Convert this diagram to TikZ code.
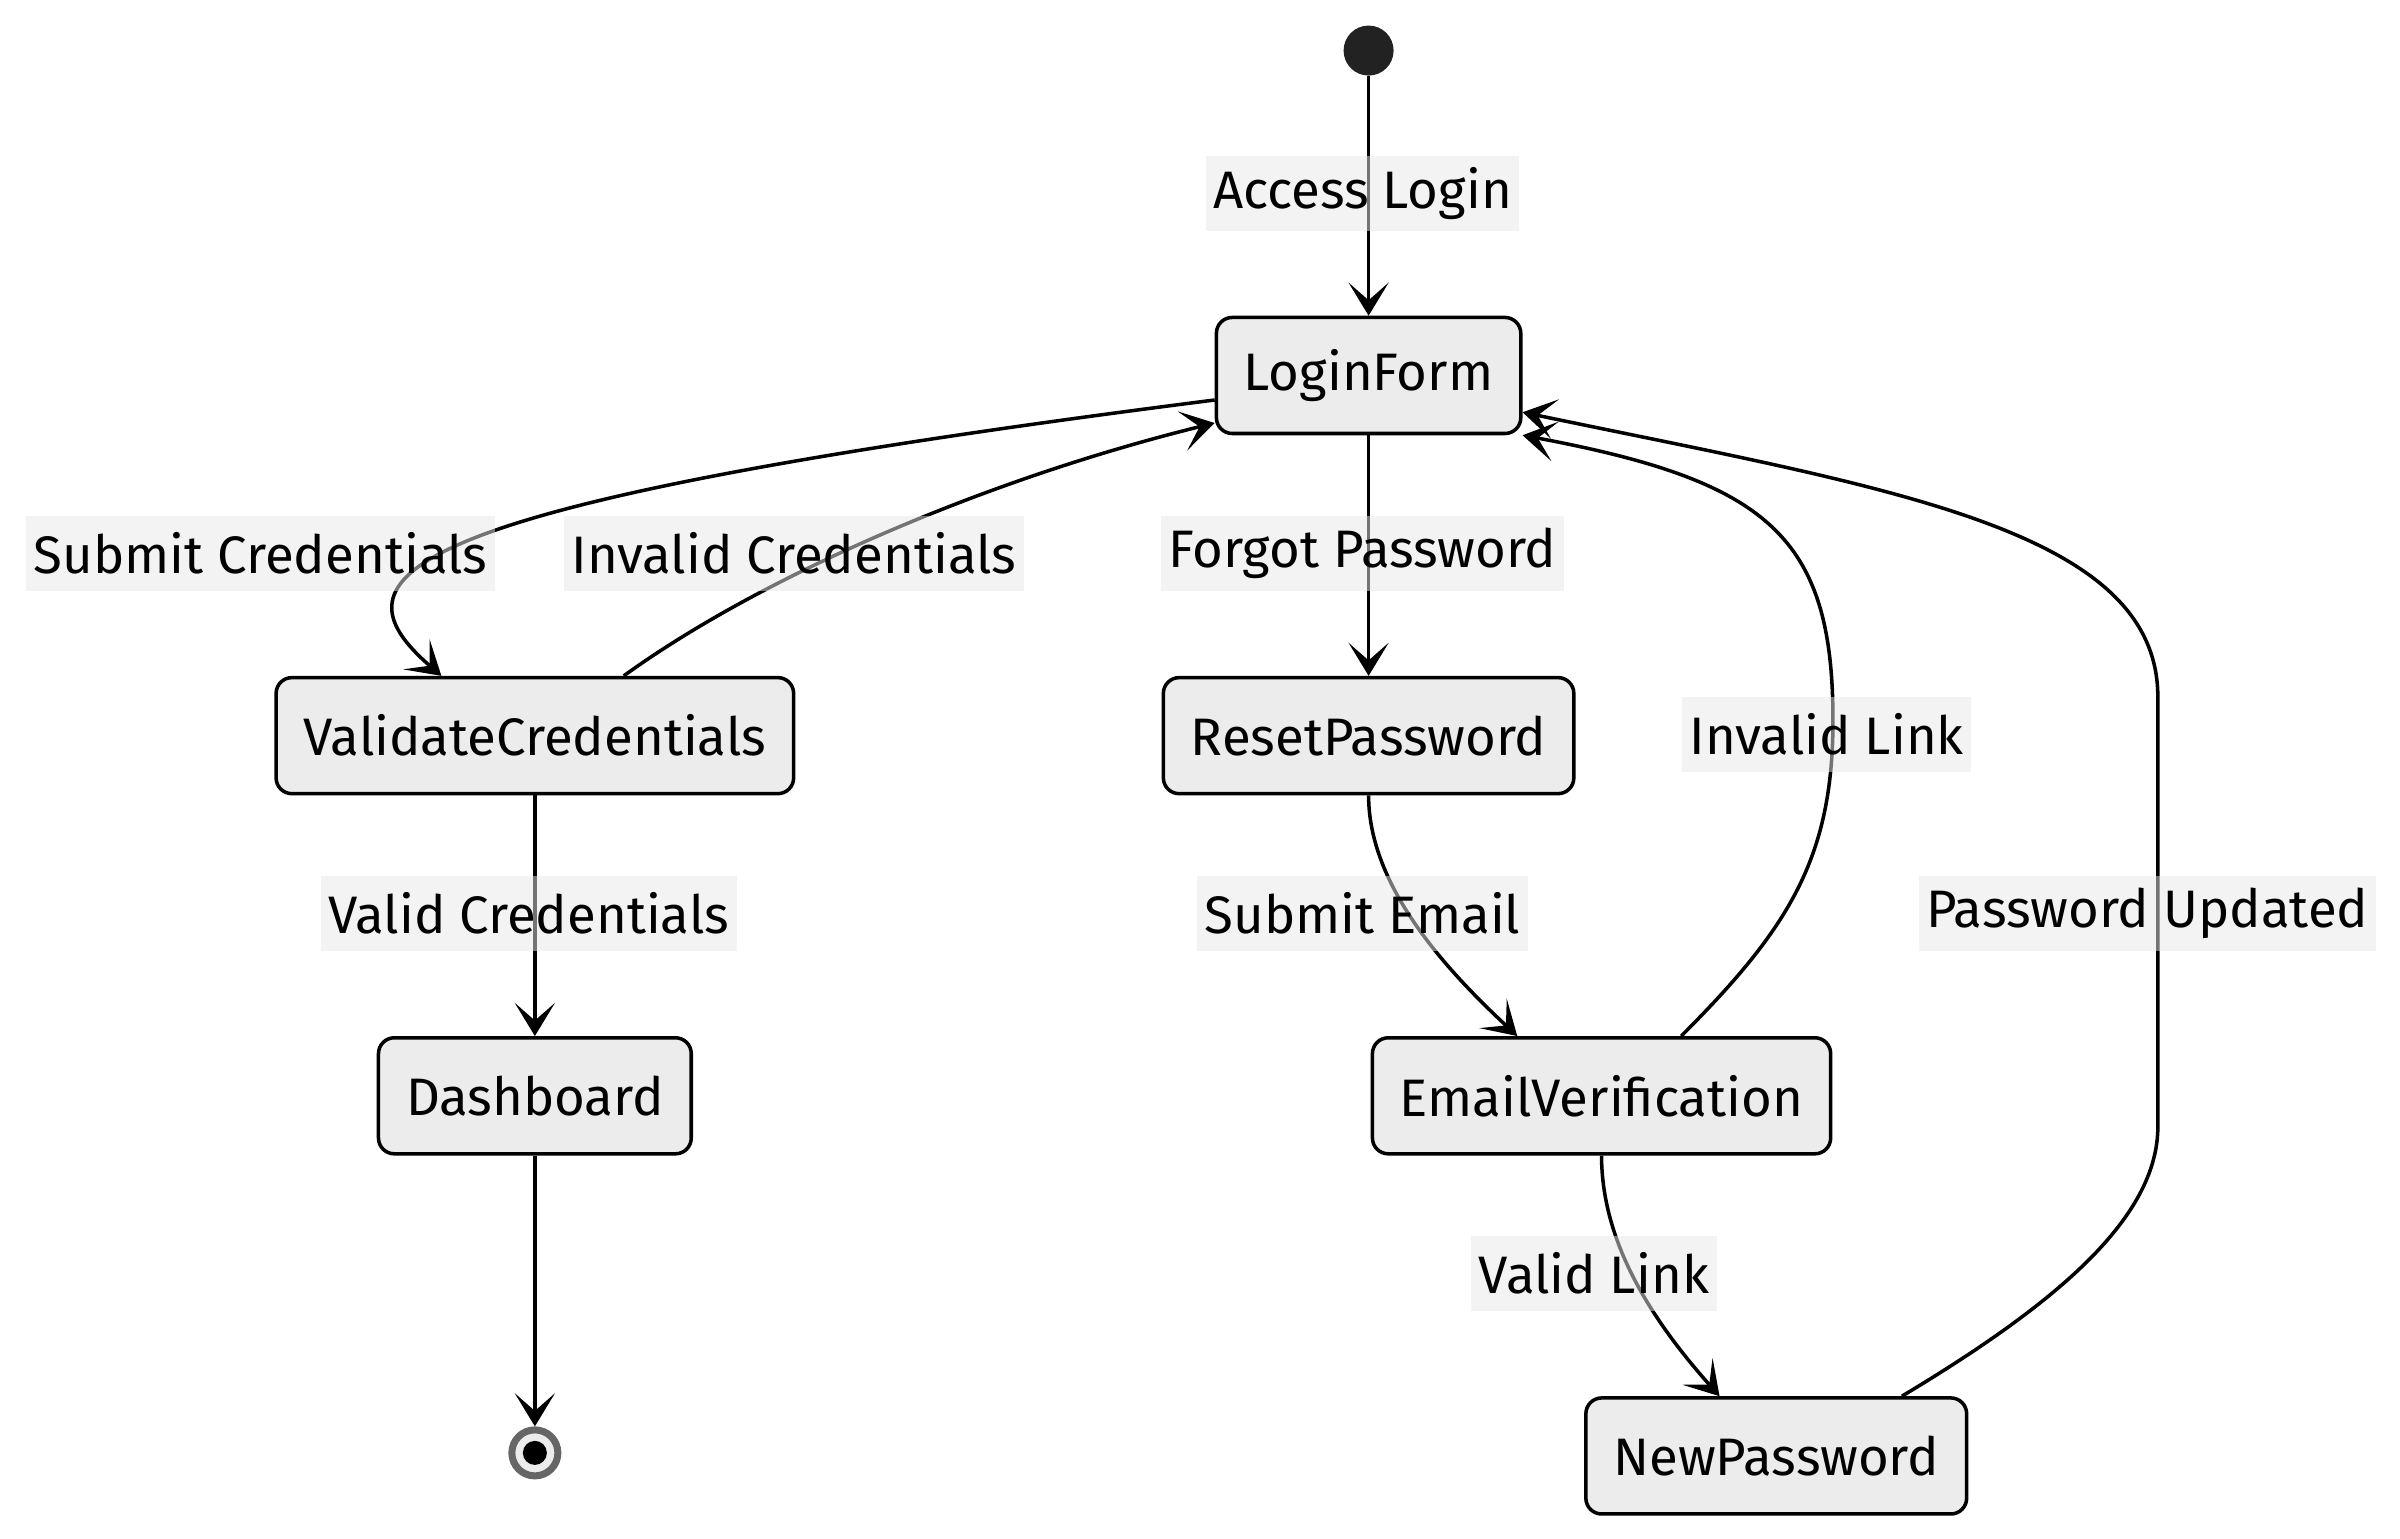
\documentclass[tikz,border=0pt]{standalone}
\usepackage{fontspec}
\setmainfont{Fira Sans}
\usetikzlibrary{positioning, calc, arrows.meta}
\definecolor{statefill}{HTML}{ECECEC}
\definecolor{labelbg}{HTML}{E8E8E8}
\definecolor{startdot}{HTML}{222222}
\definecolor{endring}{HTML}{666666}

\begin{document}
\begin{tikzpicture}[x=0.01532cm, y=0.01532cm,
	state/.style={draw, line width=1pt, fill=statefill, rounded corners=4.5pt, minimum height=1.16cm, inner xsep=0.275cm, font=\fontsize{15pt}{18pt}\selectfont},
	lbl/.style={fill=labelbg, fill opacity=0.5, text opacity=1, inner xsep=0.075cm, inner ysep=0pt, minimum height=0.75cm, font=\fontsize{15pt}{18pt}\selectfont},
	tr/.style={-{Stealth[length=9.4pt, width=11.4pt, inset=5pt]}, line width=1pt}]
	\useasboundingbox (0,0) rectangle (1566,-1004);
	\node[circle, fill=startdot, minimum size=0.5cm, inner sep=0] (init) at (893,-33) {};
	\node[state] (login) at (893,-245) {LoginForm};
	\node[state] (validate) at (349,-480) {ValidateCredentials};
	\node[state] (reset) at (893,-480) {ResetPassword};
	\node[state] (dash) at (349,-715) {Dashboard};
	\node[state] (verify) at (1045,-715) {EmailVerification};
	\node[state] (newpw) at (1159,-950) {NewPassword};
	\node[circle, draw=endring, line width=2pt, fill=statefill, minimum size=0.46cm, inner sep=0] (final) at (349,-948) {};
	\fill (final) circle (0.12cm);
	\coordinate (linkTurn) at (1196,-470);
	\coordinate (pwLow) at (1408,-735);
	\coordinate (pwHigh) at (1408,-455);

	\draw[tr] (init) -- (login);
	\draw[tr] ($(login.west)+(0,-16)$) .. controls +(-543,-69) and +(-75,65) .. ($(validate.north)+(-61,0)$);
	\draw[tr] ($(validate.north)+(58,0)$) .. controls +(90,65) and +(-150,-37) .. ($(login.west)+(0,-31)$);
	\draw[tr] (login) -- (reset);
	\draw[tr] (validate) -- (dash);
	\draw[tr] (dash) -- (final);
	\draw[tr] (reset.south) .. controls +(0,-60) and +(-45,42) .. ($(verify.north)+(-55,0)$);
	\draw[tr] (verify.south) .. controls +(0,-60) and +(-40,45) .. ($(newpw.north)+(-37,0)$);
	\draw[tr] ($(verify.north)+(52,0)$) .. controls +(70,70) and +(0,-90) .. (linkTurn) .. controls +(0,120) and +(160,-30) .. (login.south east);
	\draw[tr] ($(newpw.north)+(82,0)$) .. controls +(100,60) and +(0,-60) .. (pwLow) -- (pwHigh) .. controls +(0,110) and +(240,-50) .. ($(login.east)+(0,-24)$);

	\node[lbl] (lAccess) at (889,-126) {Access Login};
	\node[lbl] (lSubmitCred) at (170,-361) {Submit Credentials};
	\node[lbl] (lInvalidCred) at (518,-361) {Invalid Credentials};
	\node[lbl] (lForgot) at (889,-361) {Forgot Password};
	\node[lbl] (lValidCred) at (345,-596) {Valid Credentials};
	\node[lbl] (lSubmitEmail) at (889,-596) {Submit Email};
	\node[lbl] (lInvalidLink) at (1192,-479) {Invalid Link};
	\node[lbl] (lPwUpdated) at (1401,-596) {Password Updated};
	\node[lbl] (lValidLink) at (1040,-831) {Valid Link};
\end{tikzpicture}
\end{document}
